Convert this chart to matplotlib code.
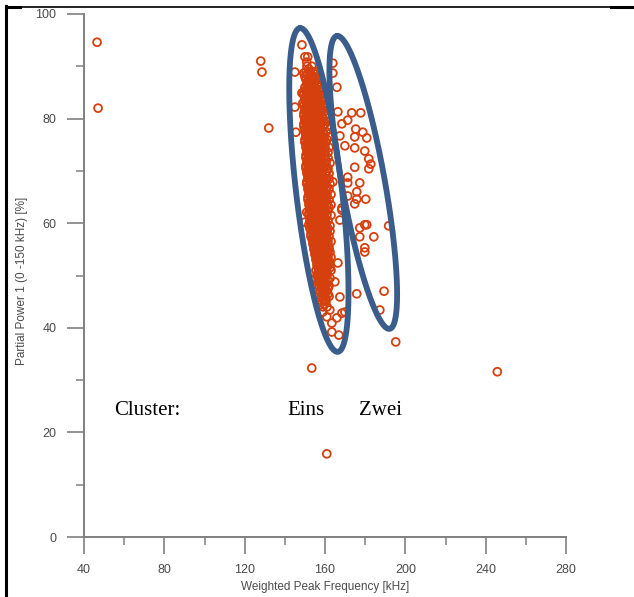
import numpy as np
import matplotlib
matplotlib.use("Agg")
import matplotlib.pyplot as plt
from matplotlib.lines import Line2D
from matplotlib.ticker import MultipleLocator

# isolated hits far from both groups
stray_freq = [46.5, 47.0, 128.0, 128.6, 132.0, 153.4, 160.9, 245.8, 195.2, 189.4, 187.3, 191.7]
stray_power = [94.6, 82.0, 91.0, 88.9, 78.2, 32.3, 15.9, 31.6, 37.3, 47.0, 43.4, 59.5]

# group "Zwei" (right band)
zwei_freq = [163.9, 163.9, 165.9, 166.4, 173.3, 177.8, 171.3, 168.4, 175.3, 178.8,
             167.4, 174.8, 180.8, 169.9, 174.8, 179.8, 181.8, 182.8, 181.8, 174.8,
             171.3, 177.3, 171.3, 175.8, 175.8, 180.3, 174.8, 171.3, 168.4, 179.8,
             180.8, 177.3, 184.3, 177.3, 179.8, 167.4, 179.8, 175.8]
zwei_power = [90.6, 88.7, 86.0, 81.3, 81.1, 81.1, 79.7, 79.0, 78.0, 77.4,
              76.7, 76.5, 76.3, 74.8, 74.4, 73.8, 72.3, 71.3, 70.4, 70.7,
              68.8, 67.7, 67.7, 66.0, 64.6, 64.6, 63.7, 65.2, 62.9, 59.7,
              59.7, 59.1, 57.4, 57.4, 55.3, 60.6, 54.5, 46.5]

# loose hits around group "Eins"
eins_freq = [148.5, 150.0, 151.4, 150.9, 145.0, 149.5, 151.9, 154.4, 145.0, 145.5,
             148.5, 150.9, 150.0, 151.9, 168.4, 163.9, 150.9, 154.0, 155.9, 156.9,
             166.4, 164.9, 167.4, 168.4, 169.9, 160.9, 163.4, 163.4, 166.9, 158.9,
             162.4, 165.9]
eins_power = [94.1, 91.8, 91.8, 90.8, 88.9, 88.7, 89.5, 88.7, 82.2, 77.4,
              84.9, 62.1, 60.2, 59.7, 62.5, 67.9, 67.7, 49.1, 48.2, 44.9,
              52.4, 48.8, 45.9, 42.8, 43.0, 42.1, 40.9, 39.2, 38.6, 43.0,
              43.4, 41.9]

# dense core of group "Eins", one row of frequencies per power level (90 .. 44)
core_power = list(range(90, 43, -1))
core_freq = [
    [151, 153.5],
    [150.5, 152.5, 155],
    [150, 152, 154, 156],
    [151, 153, 155, 157],
    [150, 152, 153.5, 155, 157.5],
    [149.5, 151, 152.5, 154, 156, 158],
    [150, 151.5, 153, 155, 156.5, 158.5],
    [149, 151, 152.5, 154, 155.5, 157.5],
    [150, 151.5, 153, 154.5, 156, 158, 159.5],
    [149.5, 151, 152.5, 154, 156, 157.5],
    [150, 151.5, 153, 154.5, 156, 157.5, 159],
    [149.5, 151, 152.5, 154, 155.5, 157, 160],
    [150, 152, 153.5, 155, 156.5, 158],
    [150.5, 152, 153.5, 155, 156.5, 158, 159.5],
    [150, 151.5, 153, 154.5, 156, 157.5, 161],
    [150.5, 152, 153.5, 155, 156.5, 158, 159.5],
    [151, 152.5, 154, 155.5, 157, 158.5],
    [150.5, 152, 153.5, 155, 156.5, 158, 160],
    [151, 152.5, 154, 155.5, 157, 158.5, 160.5],
    [150.5, 152, 153.5, 155, 156.5, 158, 159.5],
    [151, 152.5, 154, 155.5, 157, 158.5, 161],
    [151.5, 153, 154.5, 156, 157.5, 159],
    [151, 152.5, 154, 155.5, 157, 158.5, 160],
    [151.5, 153, 154.5, 156, 157.5, 159, 161],
    [152, 153.5, 155, 156.5, 158, 159.5],
    [151.5, 153, 154.5, 156, 157.5, 159, 160.5],
    [152, 153.5, 155, 156.5, 158, 159.5],
    [152.5, 154, 155.5, 157, 158.5, 160, 162],
    [152, 153.5, 155, 156.5, 158, 159.5],
    [152.5, 154, 155.5, 157, 158.5, 160],
    [153, 154.5, 156, 157.5, 159, 160.5],
    [152.5, 154, 155.5, 157, 158.5, 160, 161.5],
    [153, 154.5, 156, 157.5, 159, 160.5],
    [153.5, 155, 156.5, 158, 159.5, 161],
    [154, 155.5, 157, 158.5, 160],
    [154.5, 156, 157.5, 159, 160.5, 162],
    [155, 156.5, 158, 159.5, 161],
    [155.5, 157, 158.5, 160, 161.5],
    [156, 157.5, 159, 160.5, 162],
    [155.5, 157, 158.5, 160, 163],
    [156, 157.5, 159, 161],
    [156.5, 158, 159.5, 161.5],
    [157, 158.5, 160, 162],
    [157.5, 159, 161],
    [158, 159.5, 162],
    [158.5, 160.5],
    [159, 161],
]

# in-between rows of the core (88.5 .. 44.5)
core_mid_power = [p - 0.5 for p in range(89, 44, -1)]
core_mid_freq = [
    [151, 153, 155],
    [150.5, 152, 154, 156],
    [151, 152.5, 154, 156, 158],
    [150.5, 152, 153.5, 155, 157, 159],
    [149.5, 151, 152.5, 154, 156, 157.5, 160],
    [150, 151.5, 153, 155, 156.5, 158.5],
    [149.5, 151, 152.5, 154, 155.5, 157, 159, 161],
    [150, 151.5, 153, 155, 156.5, 158.5, 160.5],
    [149.5, 151, 152.5, 154, 155.5, 157, 158.5, 160],
    [150, 151.5, 153, 155, 156.5, 158, 159.5, 161.5],
    [149.5, 151, 152.5, 154, 155.5, 157, 159, 161],
    [150, 151.5, 153, 154.5, 156, 157.5, 159, 160.5],
    [150.5, 152, 153.5, 155, 156.5, 158, 159.5, 162],
    [150, 151.5, 153, 154.5, 156, 157.5, 159, 160.5],
    [150.5, 152, 153.5, 155, 156.5, 158, 160, 162],
    [151, 152.5, 154, 155.5, 157, 158.5, 160, 161.5],
    [150.5, 152, 153.5, 155, 156.5, 158, 159.5, 161.5],
    [151, 152.5, 154, 155.5, 157, 158.5, 160.5, 162.5],
    [150.5, 152, 153.5, 155, 156.5, 158, 159.5, 161.5],
    [151, 152.5, 154, 155.5, 157, 158.5, 160, 162],
    [151.5, 153, 154.5, 156, 157.5, 159, 160.5, 162],
    [151, 152.5, 154, 155.5, 157, 158.5, 160, 162.5],
    [151.5, 153, 154.5, 156, 157.5, 159, 160.5, 162],
    [152, 153.5, 155, 156.5, 158, 159.5, 161, 163],
    [151.5, 153, 154.5, 156, 157.5, 159, 160.5, 162],
    [152, 153.5, 155, 156.5, 158, 159.5, 161, 163],
    [152.5, 154, 155.5, 157, 158.5, 160, 161.5],
    [152, 153.5, 155, 156.5, 158, 159.5, 161, 163],
    [152.5, 154, 155.5, 157, 158.5, 160, 161.5],
    [153, 154.5, 156, 157.5, 159, 160.5, 162.5],
    [153.5, 155, 156.5, 158, 159.5, 161, 162.5],
    [153, 154.5, 156, 157.5, 159, 160.5, 162],
    [154, 155.5, 157, 158.5, 160, 161.5, 163],
    [154.5, 156, 157.5, 159, 160.5, 162],
    [155, 156.5, 158, 159.5, 161, 162.5],
    [155.5, 157, 158.5, 160, 161.5, 163],
    [156, 157.5, 159, 160.5, 162],
    [156.5, 158, 159.5, 161, 162.5],
    [156.5, 158, 159.5, 161],
    [157, 158.5, 160, 162.5],
    [157.5, 159, 160.5],
    [158, 159.5, 161.5],
    [158.5, 160, 161.5],
    [159, 160.5],
    [159.5],
]

# cluster outlines: top end, bottom end (data) and half width (points)
ring_top = [(147.5, 97.3), (165.9, 95.8)]
ring_bottom = [(166.4, 35.4), (192.2, 39.8)]
ring_half_width = [16.5, 15.5]

cluster_labels = ["Cluster:", "Eins", "Zwei"]
label_freq = [54.9, 141.5, 176.8]
label_power = [23.3, 23.3, 23.3]

MARKER = "#d6400f"
RING = "#3a5d8c"
AXIS = "#808080"
TEXT = "#4a4a4a"


def draw_ring(ax, top, bottom, half_width_pt):
    # build the ellipse in pixel space so it keeps its shape, then map back to data
    p0, p1 = ax.transData.transform([top, bottom])
    centre = (p0 + p1) / 2
    major = (p0 - p1) / 2
    unit = major / np.hypot(*major)
    minor = np.array([-unit[1], unit[0]]) * half_width_pt * ax.figure.dpi / 72
    t = np.linspace(0, 2 * np.pi, 400)
    pts = centre + np.outer(np.cos(t), major) + np.outer(np.sin(t), minor)
    xy = ax.transData.inverted().transform(pts)
    ax.plot(xy[:, 0], xy[:, 1], color=RING, lw=4.2, solid_capstyle="round",
            zorder=4, clip_on=False)


fig = plt.figure(figsize=(6.34, 5.97), dpi=100)
ax = fig.add_axes([84 / 634, 60 / 597, 482 / 634, 523 / 597])

freq = list(stray_freq) + zwei_freq + eins_freq
power = list(stray_power) + zwei_power + eins_power
for levels, rows in ((core_power, core_freq), (core_mid_power, core_mid_freq)):
    for p, row in zip(levels, rows):
        freq += row
        power += [p] * len(row)

ax.scatter(freq, power, s=32, facecolors="none", edgecolors=MARKER,
           linewidths=1.3, zorder=3, clip_on=False)

ax.set_xlim(40, 280)
ax.set_ylim(0, 100)

for top, bottom, hw in zip(ring_top, ring_bottom, ring_half_width):
    draw_ring(ax, top, bottom, hw)

for txt, x, y in zip(cluster_labels, label_freq, label_power):
    ax.text(x, y, txt, family="Liberation Serif", fontsize=15, color="black",
            ha="left", va="baseline")

for side in ("top", "right"):
    ax.spines[side].set_visible(False)
for side in ("left", "bottom"):
    ax.spines[side].set_color(AXIS)
    ax.spines[side].set_linewidth(1.4)

ax.xaxis.set_major_locator(MultipleLocator(40))
ax.xaxis.set_minor_locator(MultipleLocator(20))
ax.yaxis.set_major_locator(MultipleLocator(20))
ax.yaxis.set_minor_locator(MultipleLocator(10))
ax.tick_params(which="major", direction="out", length=12.5, width=1.2,
               color=AXIS, labelcolor=TEXT, labelsize=9, pad=7)
ax.tick_params(which="minor", direction="out", length=6, width=1.1, color=AXIS)
ax.tick_params(axis="y", which="major", pad=7.5)
for lab in ax.get_xticklabels() + ax.get_yticklabels():
    lab.set_family("Liberation Sans")

ax.set_xlabel("Weighted Peak Frequency [kHz]", family="Liberation Sans",
              fontsize=8.5, color=TEXT)
ax.xaxis.set_label_coords(0.5, -0.085)
ax.set_ylabel("Partial Power 1 (0 -150 kHz) [%]", family="Liberation Sans",
              fontsize=8.5, color=TEXT)
ax.yaxis.set_label_coords(-0.116, 0.49)

# black frame along the left and top edges
fig.add_artist(Line2D([6 / 634, 6 / 634], [0, 1 - 6 / 597], color="black", lw=2.2))
fig.add_artist(Line2D([6 / 634, 1], [1 - 6.5 / 597, 1 - 6.5 / 597], color="black", lw=1.2))
fig.add_artist(Line2D([6 / 634, 20 / 634], [1 - 6.5 / 597, 1 - 6.5 / 597], color="black", lw=2.2))
fig.add_artist(Line2D([611 / 634, 1], [1 - 6.5 / 597, 1 - 6.5 / 597], color="black", lw=2.2))

fig.savefig("out.png", dpi=100)
